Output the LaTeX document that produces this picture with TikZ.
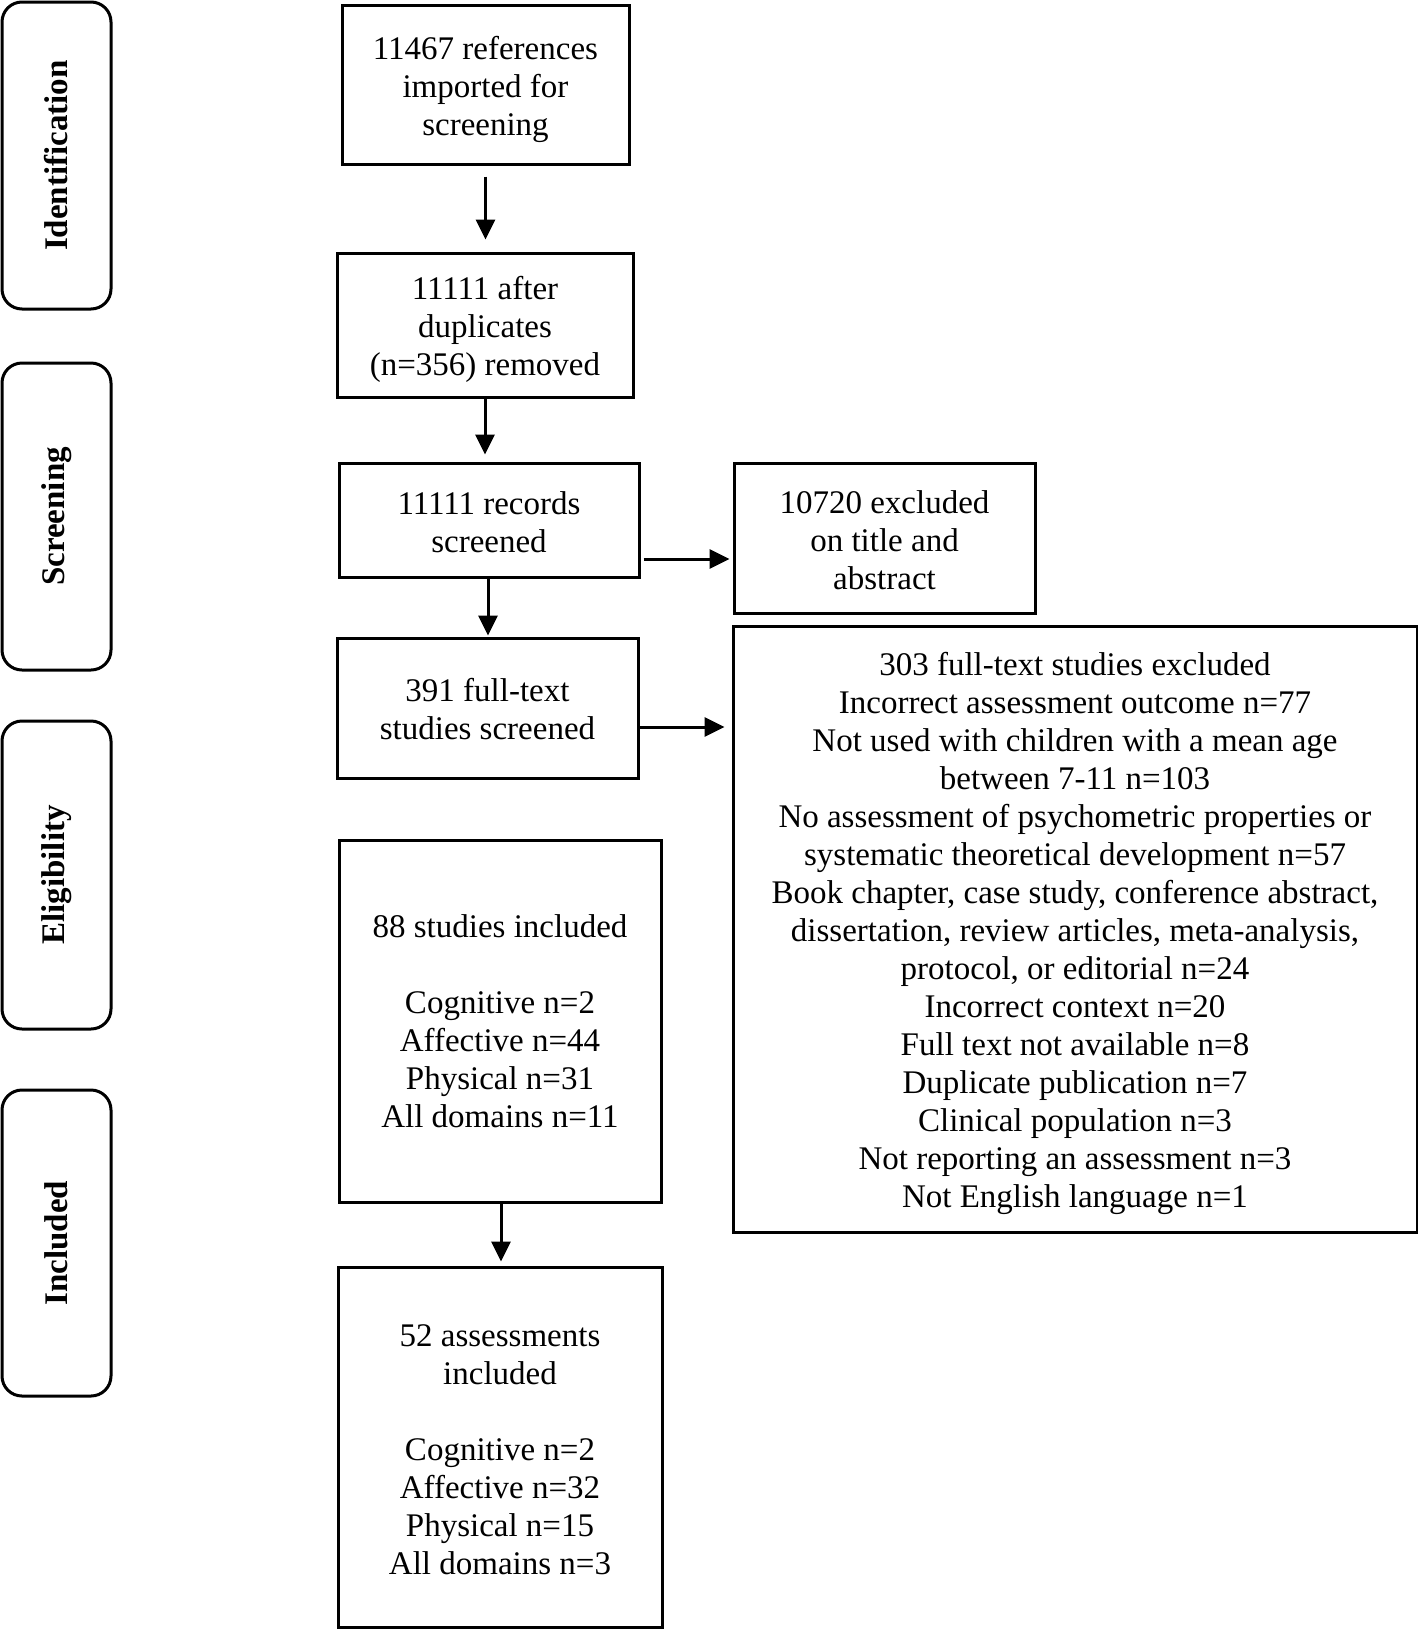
\documentclass[tikz,border=0pt]{standalone}
\usepackage{fontspec}
\setmainfont{Liberation Serif}
\usetikzlibrary{arrows.meta}
\newcommand{\tp}[1][33pt]{\rule{0pt}{#1}}
\begin{document}
\begin{tikzpicture}[x=1pt,y=-1pt,
  box/.style={draw, line width=3pt, align=center, inner sep=0pt, font=\fontsize{33}{38}\selectfont},
  side/.style={draw, line width=3pt, rounded corners=20pt, rotate=90, inner sep=0pt,
    font=\fontsize{33}{38}\selectfont\bfseries, minimum height=109pt},
  arr/.style={line width=3pt, -{Triangle[length=20pt,width=19pt]}}
]
\useasboundingbox (0,0) rectangle (1418,1631);
% side labels
\node[side, minimum width=307pt] (sid) at (56.5,155.5) {Identification};
\node[side, minimum width=307pt] (ssc) at (56.5,516.5) {Screening};
\node[side, minimum width=308pt] (sel) at (56.5,875) {Eligibility};
\node[side, minimum width=306pt] (sin) at (56.5,1243) {Included};
% main boxes
\node[box, minimum width=287pt, minimum height=159pt] (b1) at (485.5,84.5) {\tp 11467 references\\imported for\\screening};
\node[box, minimum width=296pt, minimum height=144pt] (b2) at (485,325) {\tp 11111 after\\duplicates\\(n=356) removed};
\node[box, minimum width=300pt, minimum height=114pt] (b3) at (489,520) {\tp[27pt]11111 records\\screened};
\node[box, minimum width=301pt, minimum height=150pt] (e1) at (884.5,538) {\tp[27pt]10720 excluded\\on title and\\abstract};
\node[box, minimum width=301pt, minimum height=140pt] (b4) at (487.5,708) {\tp[26pt]391 full-text\\studies screened};
\node[box, minimum width=684pt, minimum height=606pt] (e2) at (1075,929)
 {\tp 303 full-text studies excluded\\
  Incorrect assessment outcome n=77\\
  Not used with children with a mean age\\
  between 7-11 n=103\\
  No assessment of psychometric properties or\\
  systematic theoretical development n=57\\
  Book chapter, case study, conference abstract,\\
  dissertation, review articles, meta-analysis,\\
  protocol, or editorial n=24\\
  Incorrect context n=20\\
  Full text not available n=8\\
  Duplicate publication n=7\\
  Clinical population n=3\\
  Not reporting an assessment n=3\\
  Not English language n=1};
\node[box, minimum width=322pt, minimum height=362pt] (b5) at (500,1021)
 {88 studies included\\[38pt]Cognitive n=2\\Affective n=44\\Physical n=31\\All domains n=11};
\node[box, minimum width=324pt, minimum height=360pt] (b6) at (500,1447)
 {\tp[28pt]52 assessments\\included\\[38pt]Cognitive n=2\\Affective n=32\\Physical n=15\\All domains n=3};
% connectors
\draw[arr, shorten <=11pt, shorten >=12pt] (b1.south) -- (b1.south |- b2.north);
\draw[arr, shorten >=7pt] (b2.south) -- (b2.south |- b3.north);
\draw[arr, shorten >=1pt] ([xshift=-1pt]b3.south) -- ([xshift=-1pt]b3.south |- b4.north);
\draw[arr, shorten <=3pt, shorten >=3pt] ([yshift=-39pt]b3.east) -- ([yshift=-39pt]b3.east -| e1.west);
\draw[arr, shorten >=7pt] ([yshift=-19pt]b4.east) -- ([yshift=-19pt]b4.east -| e2.west);
\draw[arr, shorten >=4pt] ([xshift=1pt]b5.south) -- ([xshift=1pt]b5.south |- b6.north);
\end{tikzpicture}
\end{document}
